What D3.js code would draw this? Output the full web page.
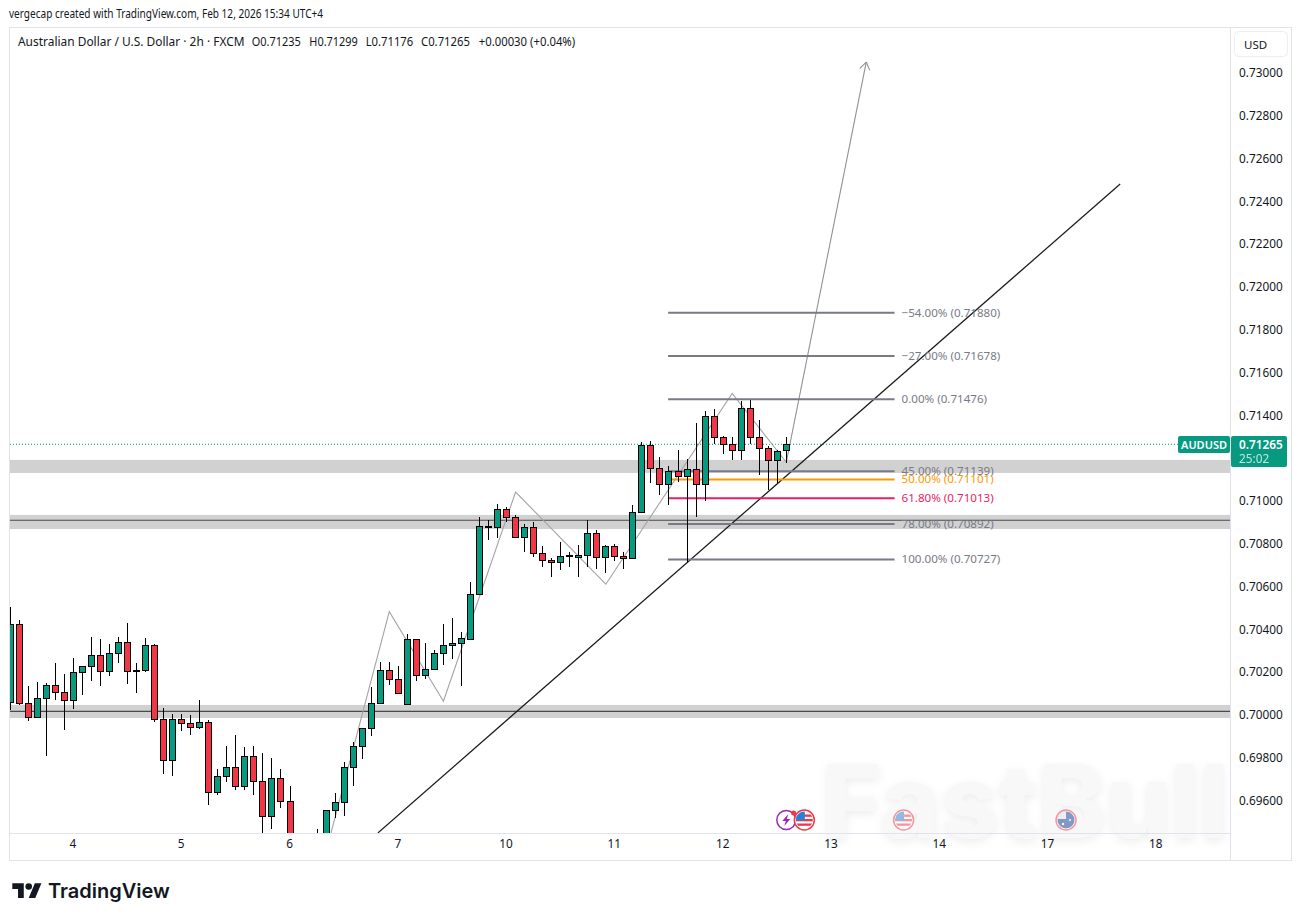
<!DOCTYPE html>
<html>
<head>
<meta charset="utf-8">
<script src="https://cdnjs.cloudflare.com/ajax/libs/d3/7.8.5/d3.min.js"></script>
<style>
  html, body { margin: 0; padding: 0; background: #fff; }
  text { font-family: "Noto Sans", sans-serif; }
  .axis path, .axis line { display: none; }
  .axis text { font-size: 11.8px; fill: #131722; }
</style>
</head>
<body>
<svg id="chart" width="1302" height="921"></svg>
<script>
// Candles
var opens = [.70059,.70424,.70055,.69989,.70078,.70139,.70106,.70069,.70199,.70227,.70279,.70204,.70288,.70340,.70209,.70209,.70326,.69980,.69788,.69980,.69961,.69942,.69966,.69639,.69713,.69755,.69667,.69807,.69690,.69527,.69704,.69597,.69420,.69380,.69400,.69435,.69555,.69592,.69756,.69854,.69938,.70055,.70209,.70167,.70050,.70354,.70185,.70213,.70288,.70326,.70335,.70354,.70564,.70882,.70877,.70961,.70924,.70830,.70877,.70755,.70723,.70713,.70740,.70737,.70746,.70849,.70737,.70788,.70741,.70732,.70947,.71260,.71153,.71078,.71139,.71115,.71148,.71078,.71396,.71298,.71265,.71237,.71433,.71298,.71246,.71190,.71235];
var highs = [.70506,.70444,.70135,.70154,.70148,.70243,.70192,.70265,.70227,.70365,.70355,.70330,.70365,.70430,.70243,.70360,.70332,.70033,.70005,.70005,.70000,.70070,.69975,.69748,.69855,.69906,.69851,.69855,.69822,.69799,.69748,.69668,.69435,.69440,.69467,.69555,.69636,.69780,.69872,.69938,.70129,.70246,.70246,.70227,.70377,.70354,.70335,.70302,.70424,.70452,.70386,.70620,.70924,.70910,.70984,.70970,.70933,.70891,.70900,.70788,.70732,.70807,.70760,.70793,.70910,.70863,.70793,.70798,.70760,.70980,.71274,.71279,.71204,.71162,.71237,.71195,.71363,.71419,.71428,.71302,.71298,.71466,.71470,.71377,.71255,.71237,.71299];
var lows = [.70023,.70047,.69974,.69989,.69810,.70072,.69932,.70030,.70095,.70160,.70137,.70184,.70245,.70146,.70104,.70203,.69969,.69726,.69716,.69927,.69908,.69936,.69581,.69628,.69689,.69651,.69651,.69628,.69440,.69469,.69567,.69390,.69350,.69360,.69380,.69400,.69520,.69530,.69670,.69796,.69903,.70055,.70142,.70101,.70050,.70159,.70170,.70209,.70235,.70263,.70137,.70354,.70564,.70818,.70829,.70900,.70830,.70763,.70740,.70693,.70646,.70679,.70693,.70646,.70690,.70684,.70665,.70721,.70684,.70732,.70942,.71083,.71030,.70983,.71090,.70713,.70924,.71002,.71265,.71221,.71190,.71193,.71265,.71120,.71050,.71083,.71176];
var closes = [.70424,.70055,.69989,.70078,.70139,.70106,.70069,.70199,.70227,.70279,.70204,.70288,.70340,.70204,.70204,.70326,.69980,.69788,.69980,.69961,.69942,.69966,.69639,.69713,.69755,.69667,.69807,.69690,.69527,.69704,.69597,.69430,.69380,.69420,.69440,.69555,.69592,.69756,.69854,.69938,.70055,.70209,.70167,.70101,.70354,.70185,.70213,.70288,.70326,.70335,.70358,.70564,.70882,.70877,.70961,.70924,.70830,.70877,.70755,.70723,.70713,.70741,.70743,.70746,.70849,.70737,.70788,.70741,.70732,.70947,.71260,.71153,.71078,.71139,.71115,.71148,.71078,.71396,.71298,.71265,.71237,.71433,.71298,.71246,.71190,.71232,.71265];

// Axis ticks
var priceTicks = [.730,.728,.726,.724,.722,.720,.718,.716,.714,.712,.710,.708,.706,.704,.702,.700,.698,.696];
var dayBars = [7,19,31,43,55,67,79,91,103,115,127];
var dayLabels = ["4","5","6","7","10","11","12","13","14","17","18"];

// Horizontal support zones: top, bottom, centre line
var zoneTops = [.71192,.70935,.70047];
var zoneBottoms = [.71131,.70869,.69986];
var zoneLines = [null,.70910,.70017];

// Fib retracement
var fibLabels = ["\u221254.00%","\u221227.00%","0.00%","45.00%","50.00%","61.80%","78.00%","100.00%"];
var fibPrices = [.71880,.71678,.71476,.71139,.71101,.71013,.70892,.70727];
var fibColors = ["#787b86","#787b86","#787b86","#787b86","#ff9800","#e91e63","#787b86","#787b86"];
var fibStartBar = 72.9, fibEndBar = 98;

// Drawings, as [bar, price]
var trendLine = [[40.74,.69449],[123,.72481]];
var zigzag = [[35.54,.69449],[42,.70483],[48,.70064],[56,.71042],[66,.70611],[80,.71503],[86,.71181]];
var arrowLine = [[86,.71181],[94.86,.73051]];

// Economic event markers
var eventBars = [88,99,117];
var eventFlags = ["us","us","au"];
var eventFade = [1,.5,.5];

var lastPrice = .71265;

var svg = d3.select("#chart");

var paneLeft = 10, paneRight = 1230, paneTop = 27, paneBottom = 833;

// One bar is about 9px, 12 bars a day
var x = d3.scaleLinear().domain([0, 86]).range([10.3, 786.3]);
var y = d3.scaleLinear().domain([.73, .696]).range([73, 800.6]);

// Snap to the pixel grid so candles stay sharp
function snap(v) { return Math.floor(v) + .5; }

var line = d3.line()
    .x(function(d) { return x(d[0]); })
    .y(function(d) { return y(d[1]); });

svg.append("defs").append("clipPath")
    .attr("id", "pane")
  .append("rect")
    .attr("x", paneLeft)
    .attr("y", paneTop)
    .attr("width", paneRight - paneLeft)
    .attr("height", paneBottom - paneTop);

// Header
svg.append("text")
    .attr("x", 9).attr("y", 18)
    .attr("textLength", 314).attr("lengthAdjust", "spacingAndGlyphs")
    .style("font-size", "12px").style("fill", "#131722")
    .text("vergecap created with TradingView.com, Feb 12, 2026 15:34 UTC+4");

// Frame
svg.append("rect")
    .attr("x", 9.5).attr("y", 27.5)
    .attr("width", 1282).attr("height", 833)
    .attr("fill", "#fff").attr("stroke", "#e0e3eb");

// Watermark
svg.append("text")
    .attr("x", 822).attr("y", 838)
    .style("font-family", "Inter, sans-serif")
    .style("font-weight", 800)
    .style("font-size", "102px")
    .style("fill", "#f8f8f8")
    .style("filter", "drop-shadow(0 3px 5px rgba(0,0,0,0.07))")
    .text("FastBull");

var pane = svg.append("g").attr("clip-path", "url(#pane)");

// Zones
zoneTops.forEach(function(top, i) {
    pane.append("rect")
        .attr("x", paneLeft).attr("width", paneRight - paneLeft)
        .attr("y", y(top)).attr("height", y(zoneBottoms[i]) - y(top))
        .attr("fill", "#d1d1d1");
    if (zoneLines[i] !== null) {
        pane.append("line")
            .attr("x1", paneLeft).attr("x2", paneRight)
            .attr("y1", y(zoneLines[i])).attr("y2", y(zoneLines[i]))
            .attr("stroke", "#4a4a4a").attr("stroke-width", 1.2);
    }
});

// Zigzag, arrow and trend line
pane.append("path").datum(zigzag)
    .attr("d", line).attr("fill", "none")
    .attr("stroke", "#a3a3a3").attr("stroke-width", 1.1);

pane.append("path").datum(arrowLine)
    .attr("d", line).attr("fill", "none")
    .attr("stroke", "#8f9197").attr("stroke-width", 1.1);

var tip = arrowLine[1];
var from = arrowLine[0];
var ang = Math.atan2(y(from[1]) - y(tip[1]), x(from[0]) - x(tip[0]));
[-0.6, 0.6].forEach(function(a) {
    pane.append("line")
        .attr("x1", x(tip[0])).attr("y1", y(tip[1]))
        .attr("x2", x(tip[0]) + 9 * Math.cos(ang + a))
        .attr("y2", y(tip[1]) + 9 * Math.sin(ang + a))
        .attr("stroke", "#8f9197").attr("stroke-width", 1.1);
});

pane.append("path").datum(trendLine)
    .attr("d", line).attr("fill", "none")
    .attr("stroke", "#1a1a1a").attr("stroke-width", 1.25);

// Fib levels
fibPrices.forEach(function(p, i) {
    pane.append("line")
        .attr("x1", x(fibStartBar)).attr("x2", x(fibEndBar))
        .attr("y1", y(p)).attr("y2", y(p))
        .attr("stroke", fibColors[i]).attr("stroke-width", 2);
    pane.append("text")
        .attr("x", x(fibEndBar) + 7).attr("y", y(p) + 4)
        .style("font-size", "11.6px").style("fill", fibColors[i])
        .text(fibLabels[i] + " (" + p.toFixed(5) + ")");
});

// Last price line
pane.append("line")
    .attr("x1", paneLeft).attr("x2", 1178)
    .attr("y1", y(lastPrice)).attr("y2", y(lastPrice))
    .attr("stroke", "#089981").attr("stroke-dasharray", "1 2");

// Candles
var barW = 6;
var candles = pane.selectAll(".candle")
    .data(opens)
    .enter().append("g")
    .attr("class", "candle");

candles.append("line")
    .attr("x1", function(d, i) { return snap(x(i)); })
    .attr("x2", function(d, i) { return snap(x(i)); })
    .attr("y1", function(d, i) { return Math.round(y(highs[i])); })
    .attr("y2", function(d, i) { return Math.round(y(lows[i])); })
    .attr("stroke", "#000").attr("stroke-width", 1);

candles.append("rect")
    .attr("x", function(d, i) { return snap(x(i)) - barW / 2; })
    .attr("width", barW)
    .attr("y", function(d, i) { return snap(y(Math.max(d, closes[i]))); })
    .attr("height", function(d, i) {
        return Math.max(snap(y(Math.min(d, closes[i]))) - snap(y(Math.max(d, closes[i]))), 1);
    })
    .attr("fill", function(d, i) { return closes[i] >= d ? "#089981" : "#f23645"; })
    .attr("stroke", "#000").attr("stroke-width", 1);

// Event markers
var markerY = 820;

var usFlag = function(g) {
    var c = g.append("clipPath").attr("id", "f" + Math.round(Math.abs(g.node().getCTM().e)));
    c.append("circle").attr("r", 8.5);
    var f = g.append("g").attr("clip-path", "url(#" + c.attr("id") + ")");
    f.append("rect").attr("x", -9).attr("y", -9).attr("width", 18).attr("height", 18).attr("fill", "#fff");
    [-5.5, -1, 3.5].forEach(function(s) {
        f.append("rect").attr("x", -9).attr("y", s).attr("width", 18).attr("height", 2.3).attr("fill", "#f23645");
    });
    f.append("rect").attr("x", -9).attr("y", -9).attr("width", 9.5).attr("height", 9.5).attr("fill", "#2a7fd6");
};

var auFlag = function(g) {
    var c = g.append("clipPath").attr("id", "f" + Math.round(Math.abs(g.node().getCTM().e)));
    c.append("circle").attr("r", 8.5);
    var f = g.append("g").attr("clip-path", "url(#" + c.attr("id") + ")");
    f.append("rect").attr("x", -9).attr("y", -9).attr("width", 18).attr("height", 18).attr("fill", "#0b3a8f");
    f.append("rect").attr("x", -9).attr("y", -9).attr("width", 9).attr("height", 8).attr("fill", "#dfe4ef");
    f.append("circle").attr("cx", -3).attr("cy", 4).attr("r", 1.2).attr("fill", "#fff");
    f.append("circle").attr("cx", 4).attr("cy", 0).attr("r", 1).attr("fill", "#fff");
};

// Purple lightning marker sits behind the first flag
var bolt = svg.append("g").attr("transform", "translate(" + x(86) + "," + markerY + ")");
bolt.append("circle").attr("r", 9.5).attr("fill", "#fff").attr("stroke", "#9c27b0").attr("stroke-width", 1.5);
bolt.append("path").attr("d", "M2,-6 L-4,1 L-0.5,1 L-2,6 L4,-1 L0.5,-1 Z").attr("fill", "#9c27b0");

eventBars.forEach(function(b, i) {
    var g = svg.append("g")
        .attr("transform", "translate(" + x(b) + "," + markerY + ")")
        .attr("opacity", eventFade[i]);
    g.append("circle").attr("r", 10).attr("fill", "#fff").attr("stroke", "#f23645").attr("stroke-width", 1.5);
    if (eventFlags[i] === "us") usFlag(g); else auFlag(g);
});

svg.append("circle")
    .attr("cx", x(86) + 7.3).attr("cy", markerY - 7)
    .attr("r", 2.5).attr("fill", "#f23645");

// Pane edges
svg.append("line")
    .attr("x1", paneRight + .5).attr("x2", paneRight + .5)
    .attr("y1", paneTop).attr("y2", 861)
    .attr("stroke", "#e0e3eb");
svg.append("line")
    .attr("x1", paneLeft).attr("x2", paneRight)
    .attr("y1", paneBottom + .5).attr("y2", paneBottom + .5)
    .attr("stroke", "#e0e3eb");

// Axes
var y_axis = d3.axisRight(y)
    .tickValues(priceTicks)
    .tickSize(0)
    .tickPadding(0)
    .tickFormat(d3.format(".5f"));
svg.append("g")
    .attr("class", "axis")
    .attr("transform", "translate(1239,0)")
    .call(y_axis);

var x_axis = d3.axisBottom(x)
    .tickValues(dayBars)
    .tickSize(0)
    .tickPadding(0)
    .tickFormat(function(d, i) { return dayLabels[i]; });
svg.append("g")
    .attr("class", "axis")
    .attr("transform", "translate(-1,840)")
    .call(x_axis);

// Currency button
svg.append("rect")
    .attr("x", 1234.5).attr("y", 31.5)
    .attr("width", 53).attr("height", 25).attr("rx", 4)
    .attr("fill", "#fff").attr("stroke", "#eceef2");
svg.append("text")
    .attr("x", 1244).attr("y", 48.5)
    .style("font-size", "11.5px").style("fill", "#131722")
    .text("USD");

// Price tags
svg.append("rect")
    .attr("x", 1178).attr("y", 436)
    .attr("width", 52).attr("height", 17).attr("rx", 2)
    .attr("fill", "#089981");
svg.append("text")
    .attr("x", 1204).attr("y", 449)
    .attr("text-anchor", "middle")
    .style("font-size", "11px").style("font-weight", 600).style("fill", "#fff")
    .text("AUDUSD");
svg.append("rect")
    .attr("x", 1231).attr("y", 436)
    .attr("width", 56).attr("height", 31).attr("rx", 2)
    .attr("fill", "#089981");
svg.append("text")
    .attr("x", 1239).attr("y", 449)
    .style("font-size", "11.8px").style("font-weight", 600).style("fill", "#fff")
    .text(lastPrice.toFixed(5));
svg.append("text")
    .attr("x", 1239).attr("y", 463)
    .style("font-size", "11.8px").style("fill", "#fff").style("opacity", .75)
    .text("25:02");

// Legend line
var legendX = [18, 251.7, 309.3, 365.7, 421, 478.7];
var legendLen = [226.5, 49, 48.5, 47.5, 49, 96.5];
var legendTexts = ["Australian Dollar / U.S. Dollar \u00b7 2h \u00b7 FXCM", "O0.71235", "H0.71299", "L0.71176", "C0.71265", "+0.00030 (+0.04%)"];
legendTexts.forEach(function(t, i) {
    svg.append("text")
        .attr("x", legendX[i]).attr("y", 46)
        .attr("textLength", legendLen[i]).attr("lengthAdjust", "spacingAndGlyphs")
        .style("font-size", "12px").style("fill", "#131722")
        .text(t);
});

// TradingView logo
var logo = svg.append("g").attr("transform", "translate(12.3,880) scale(0.82)");
logo.append("path").attr("d", "M14 22H7V11H0V4h14v18zM28 22h-8l7.5-18h8L28 22z").attr("fill", "#131722");
logo.append("circle").attr("cx", 20).attr("cy", 8).attr("r", 4).attr("fill", "#131722");
svg.append("text")
    .attr("x", 48).attr("y", 898)
    .style("font-family", "Inter, sans-serif")
    .style("font-weight", 600)
    .style("font-size", "20px")
    .style("fill", "#131722")
    .text("TradingView");
</script>
</body>
</html>
